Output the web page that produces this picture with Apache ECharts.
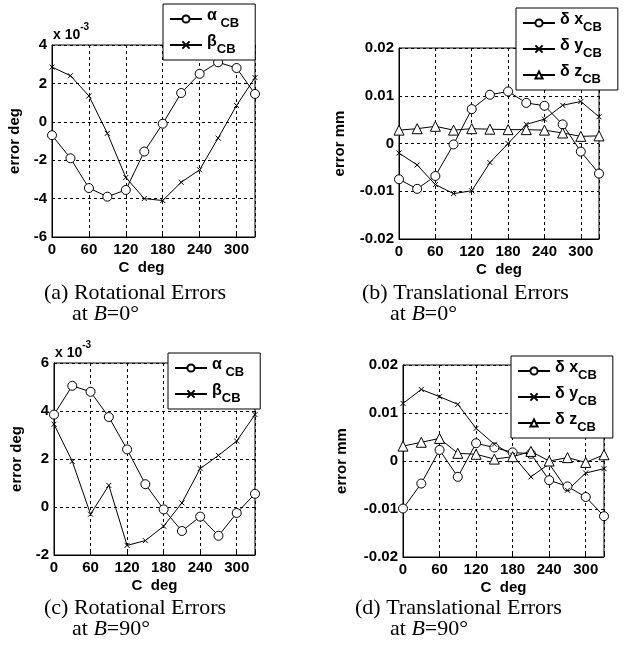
<!DOCTYPE html>
<html>
<head>
<meta charset="utf-8">
<script src="https://cdn.jsdelivr.net/npm/echarts@6/dist/echarts.min.js"></script>
<style>
html, body { margin: 0; background: #fff; }
#main { width: 644px; height: 651px; }
</style>
</head>
<body>
<div id="main"></div>
<script>
// C angle, deg
let cDeg = [0, 30, 60, 90, 120, 150, 180, 210, 240, 270, 300, 330]

// (a) rotational errors at B=0, x 10^-3 deg
let alphaB0 = [-0.7, -1.9, -3.45, -3.9, -3.55, -1.55, -0.1, 1.5, 2.5, 3.1, 2.8, 1.45]
let betaB0 = [2.85, 2.4, 1.35, -0.6, -2.9, -4.0, -4.1, -3.15, -2.5, -0.85, 0.85, 2.3]

// (b) translational errors at B=0, mm
let dxB0 = [-0.0075, -0.0095, -0.0068, -0.0002, 0.0072, 0.0102, 0.0109, 0.0085, 0.0079, 0.004, -0.0017, -0.0063]
let dyB0 = [-0.002, -0.0045, -0.0086, -0.0105, -0.0099, -0.004, 0.0, 0.004, 0.0051, 0.008, 0.0088, 0.0056]
let dzB0 = [0.0028, 0.0031, 0.0036, 0.0028, 0.0031, 0.003, 0.0029, 0.0029, 0.0028, 0.0022, 0.0015, 0.0016]

// (c) rotational errors at B=90, x 10^-3 deg
let alphaB90 = [3.85, 5.05, 4.8, 3.75, 2.4, 0.95, -0.1, -1.0, -0.4, -1.2, -0.25, 0.55]
let betaB90 = [3.45, 1.9, -0.3, 0.9, -1.6, -1.4, -0.8, 0.17, 1.6, 2.15, 2.75, 3.85]

// (d) translational errors at B=90, mm
let dxB90 = [-0.0099, -0.0047, 0.0023, -0.0033, 0.0037, 0.0028, 0.0018, 0.0015, -0.004, -0.0053, -0.0075, -0.0115]
let dyB90 = [0.012, 0.0149, 0.0134, 0.0118, 0.0068, 0.0035, 0.0012, -0.0033, -0.0006, -0.0061, -0.0025, -0.0016]
let dzB90 = [0.0031, 0.0039, 0.0047, 0.0016, 0.0014, 0.0004, 0.0009, 0.002, 0.0, 0.0007, -0.0003, 0.0013]

// axis tick setup
let xMin = 0, xMax = 330, xStep = 60
let rotRangeB0 = [-6, 4], rotRangeB90 = [-2, 6], rotStep = 2
let transRange = [-0.02, 0.02], transStep = 0.01

let sans = 'Liberation Sans, Arial, sans-serif'
let serif = 'Liberation Serif, Times New Roman, serif'
let xMark = 'path://M0,0L10,10M10,0L0,10'

let legendNames = {
    alpha: '{g|α}{s| CB}',
    beta: '{g|β}{s|CB}',
    dx: '{g|δ x}{s|CB}',
    dy: '{g|δ y}{s|CB}',
    dz: '{g|δ z}{s|CB}'
}

function pairs(vals) {
    return cDeg.map((c, i) => [c, vals[i]])
}

function makeX(idx, pad) {
    return {
        type: 'value', gridIndex: idx,
        min: xMin, max: xMax, interval: xStep,
        name: 'C  deg', nameLocation: 'middle', nameGap: 23,
        nameTextStyle: { fontFamily: sans, fontWeight: 'bold', fontSize: 15, color: '#000', padding: pad },
        axisLine: { onZero: false, lineStyle: { color: '#000', width: 1 } },
        axisTick: { show: true, inside: true, length: 3, lineStyle: { color: '#000' } },
        axisLabel: {
            margin: 5, fontFamily: sans, fontWeight: 'bold', fontSize: 15, color: '#000',
            formatter: v => v > 300 ? '' : v
        },
        splitLine: { show: true, lineStyle: { color: '#000', type: [3, 3], width: 1 } }
    }
}

function makeY(idx, range, step, name, gap) {
    return {
        type: 'value', gridIndex: idx,
        min: range[0], max: range[1], interval: step,
        name: name, nameLocation: 'middle', nameGap: gap,
        nameTextStyle: { fontFamily: sans, fontWeight: 'bold', fontSize: 15, color: '#000' },
        axisLine: { show: true, onZero: false, lineStyle: { color: '#000', width: 1 } },
        axisTick: { show: true, inside: true, length: 3, lineStyle: { color: '#000' } },
        axisLabel: { margin: 5, fontFamily: sans, fontWeight: 'bold', fontSize: 15, color: '#000' },
        splitLine: { show: true, lineStyle: { color: '#000', type: [3, 3], width: 1 } }
    }
}

function makeSeries(name, idx, vals, symbol, size) {
    return {
        name: name, type: 'line',
        xAxisIndex: idx, yAxisIndex: idx,
        data: pairs(vals),
        symbol: symbol, symbolSize: size,
        showAllSymbol: true,
        lineStyle: { color: '#000', width: 1 },
        itemStyle: { color: '#fff', borderColor: '#000', borderWidth: 1 },
        animation: false
    }
}

function makeLegend(left, top, names) {
    return {
        orient: 'vertical', left: left, top: top,
        data: names,
        backgroundColor: '#fff', borderColor: '#000', borderWidth: 1,
        padding: [4, 16, 4, 6], itemGap: 4,
        itemWidth: 32, itemHeight: 9,
        formatter: n => legendNames[n.split('_')[0]],
        textStyle: {
            color: '#000',
            rich: {
                g: { fontFamily: sans, fontWeight: 'bold', fontSize: 16, lineHeight: 22, verticalAlign: 'top' },
                s: { fontFamily: sans, fontWeight: 'bold', fontSize: 13, lineHeight: 12, verticalAlign: 'bottom' }
            }
        }
    }
}

function expLabel(x, y) {
    return {
        type: 'text', left: x, top: y,
        style: {
            text: '{b|x 10}{p|-3}',
            rich: {
                b: { fontFamily: sans, fontWeight: 'bold', fontSize: 14, lineHeight: 20, verticalAlign: 'bottom', fill: '#000' },
                p: { fontFamily: sans, fontWeight: 'bold', fontSize: 10, lineHeight: 10, verticalAlign: 'top', fill: '#000' }
            }
        }
    }
}

function caption(x, y, line1, x2, angle) {
    return [{
        type: 'text', left: x, top: y,
        style: { text: line1, font: '22px ' + serif, fill: '#000' }
    }, {
        type: 'text', left: x2, top: y + 21,
        style: {
            text: 'at {i|B}=' + angle + '°',
            font: '22px ' + serif, fill: '#000',
            rich: { i: { fontFamily: serif, fontStyle: 'italic', fontSize: 22 } }
        }
    }]
}

let chartDom = document.getElementById('main')
let myChart = echarts.init(chartDom, null, { renderer: 'canvas' })

let gridStyle = { show: true, borderColor: '#000', borderWidth: 1, backgroundColor: '#fff' }

let option = {
    animation: false,
    backgroundColor: '#fff',
    grid: [
        Object.assign({ left: 52, top: 45, width: 203, height: 192 }, gridStyle),
        Object.assign({ left: 399, top: 48, width: 200, height: 191 }, gridStyle),
        Object.assign({ left: 54, top: 363, width: 201, height: 192 }, gridStyle),
        Object.assign({ left: 403, top: 365, width: 201, height: 192 }, gridStyle)
    ],
    xAxis: [
        makeX(0, [0, 24, 0, 0]),
        makeX(1, 0),
        makeX(2, 0),
        makeX(3, 0)
    ],
    yAxis: [
        makeY(0, rotRangeB0, rotStep, 'error deg', 30),
        makeY(1, transRange, transStep, 'error mm', 52),
        makeY(2, rotRangeB90, rotStep, 'error deg', 30),
        makeY(3, transRange, transStep, 'error mm', 54)
    ],
    legend: [
        makeLegend(163, 4, ['alpha_a', 'beta_a']),
        makeLegend(516, 8, ['dx_b', 'dy_b', 'dz_b']),
        makeLegend(168, 353, ['alpha_c', 'beta_c']),
        makeLegend(511, 356, ['dx_d', 'dy_d', 'dz_d'])
    ],
    series: [
        makeSeries('alpha_a', 0, alphaB0, 'circle', 9),
        makeSeries('beta_a', 0, betaB0, xMark, 5),
        makeSeries('dx_b', 1, dxB0, 'circle', 9),
        makeSeries('dy_b', 1, dyB0, xMark, 5),
        makeSeries('dz_b', 1, dzB0, 'triangle', 10),
        makeSeries('alpha_c', 2, alphaB90, 'circle', 9),
        makeSeries('beta_c', 2, betaB90, xMark, 5),
        makeSeries('dx_d', 3, dxB90, 'circle', 9),
        makeSeries('dy_d', 3, dyB90, xMark, 5),
        makeSeries('dz_d', 3, dzB90, 'triangle', 10)
    ],
    graphic: [
        expLabel(53, 22),
        expLabel(55, 340)
    ].concat(
        caption(44, 282, '(a) Rotational Errors', 72, '0'),
        caption(362, 282, '(b) Translational Errors', 390, '0'),
        caption(44, 597, '(c) Rotational Errors', 72, '90'),
        caption(355, 597, '(d) Translational Errors', 390, '90')
    )
}

option && myChart.setOption(option)
</script>
</body>
</html>
